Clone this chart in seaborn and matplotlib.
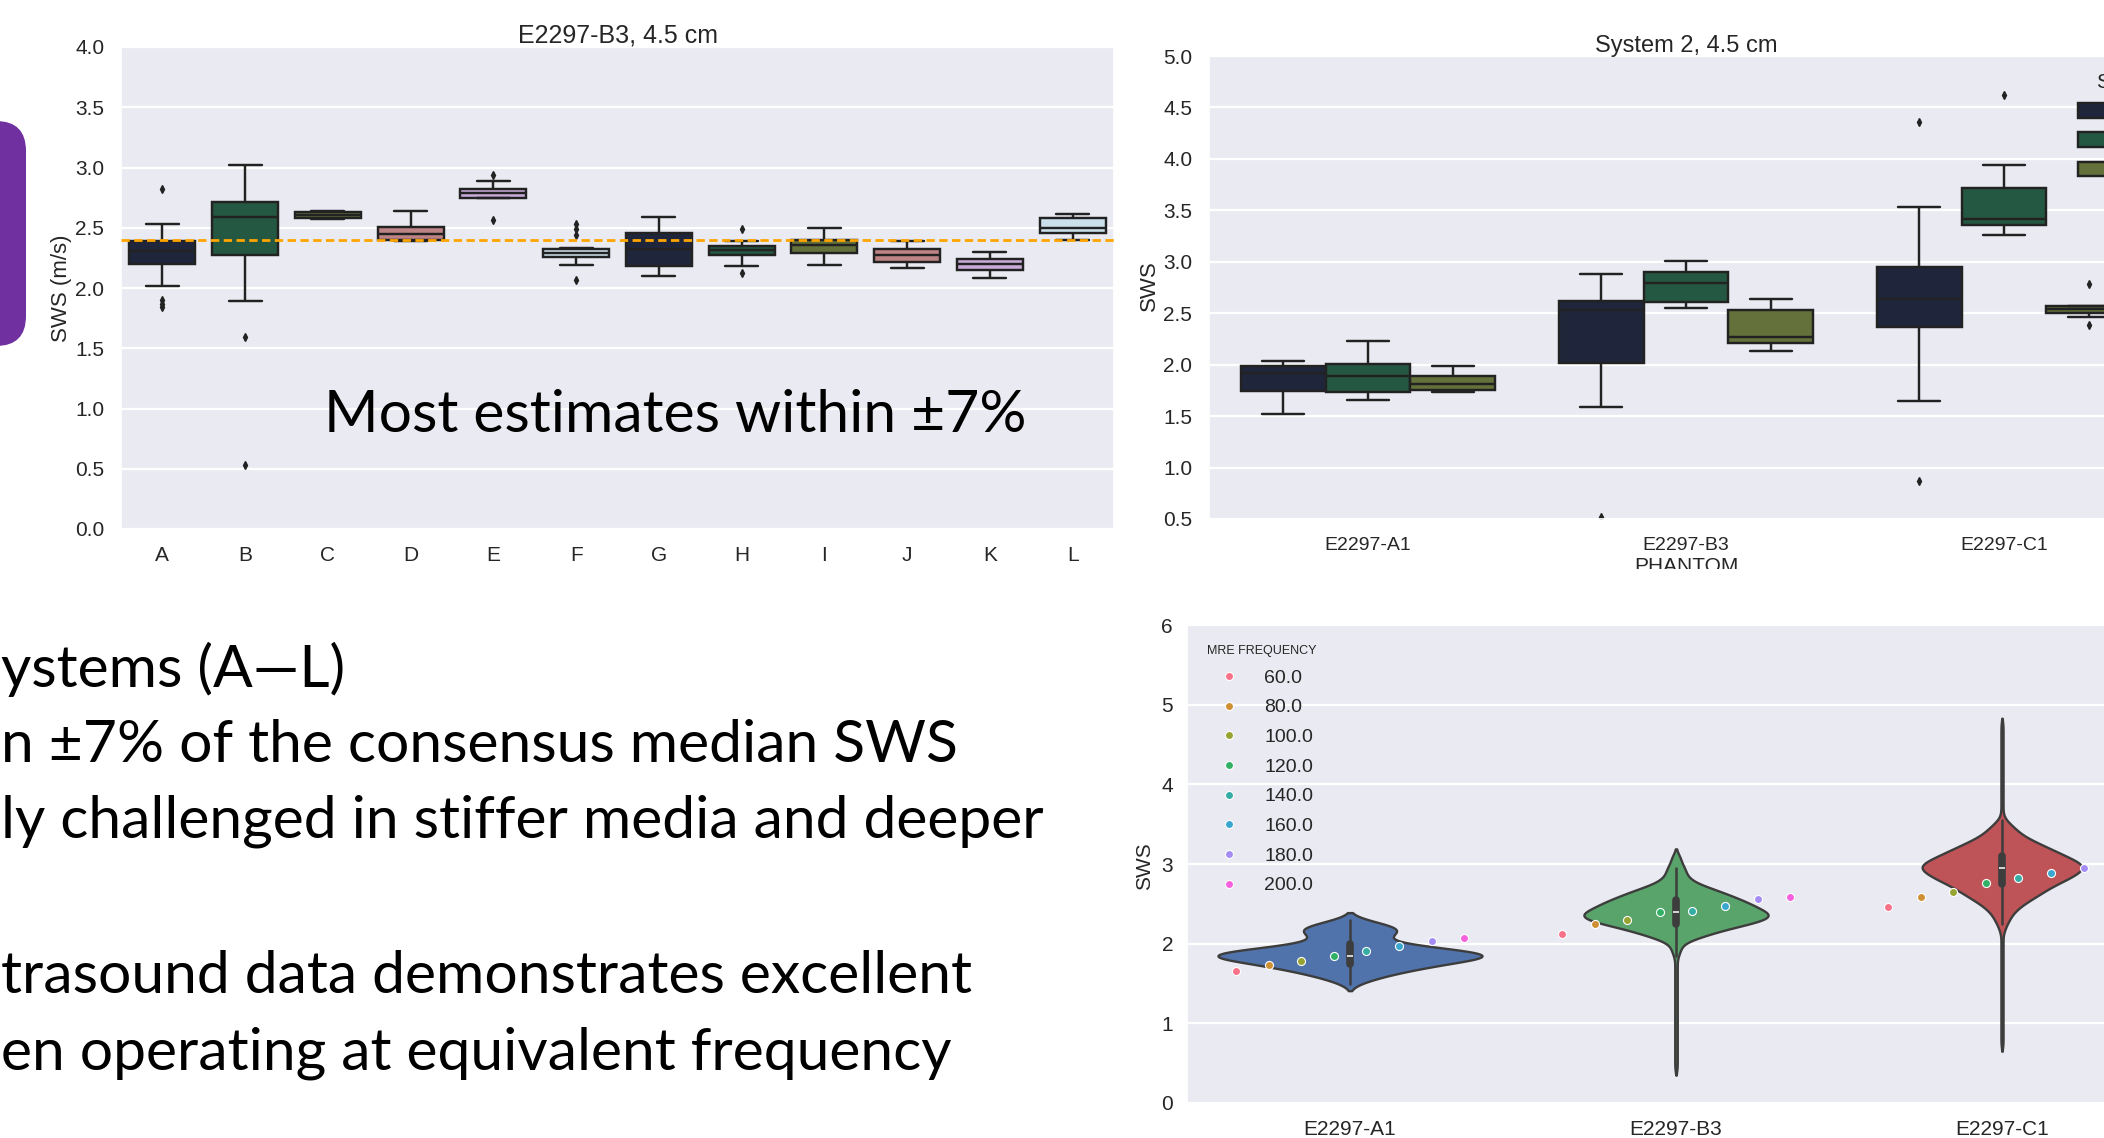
import numpy as np
import pandas as pd
import matplotlib
matplotlib.use("Agg")
import matplotlib.pyplot as plt
from matplotlib.patches import FancyBboxPatch, Rectangle
from matplotlib.ticker import FormatStrFormatter
import seaborn as sns

W, H = 2104, 1138

# ---------------- data: top-left  (E2297-B3, 4.5 cm, systems A-L) ----------------
systems = list("ABCDEFGHIJKL")
sws_A = [1.84, 1.87, 1.90, 2.02, 2.20, 2.23, 2.26, 2.29, 2.31, 2.33, 2.35, 2.37, 2.39, 2.42, 2.47, 2.53, 2.82]
sws_B = [0.53, 1.59, 1.89, 2.27, 2.45, 2.55, 2.59, 2.63, 2.67, 2.71, 2.80, 2.90, 3.02]
sws_C = [2.57, 2.575, 2.58, 2.59, 2.605, 2.62, 2.63, 2.635, 2.64]
sws_D = [2.39, 2.395, 2.40, 2.43, 2.45, 2.48, 2.51, 2.57, 2.635]
sws_E = [2.565, 2.75, 2.75, 2.77, 2.79, 2.80, 2.82, 2.89, 2.94]
sws_F = [2.063, 2.19, 2.22, 2.24, 2.26, 2.27, 2.28, 2.285, 2.29, 2.30, 2.31, 2.315, 2.32, 2.33, 2.437, 2.49, 2.535]
sws_G = [2.10, 2.14, 2.185, 2.25, 2.32, 2.40, 2.46, 2.52, 2.59]
sws_H = [2.124, 2.185, 2.27, 2.29, 2.315, 2.33, 2.35, 2.39, 2.49]
sws_I = [2.19, 2.24, 2.29, 2.33, 2.36, 2.38, 2.40, 2.45, 2.50]
sws_J = [2.165, 2.19, 2.215, 2.24, 2.27, 2.30, 2.32, 2.36, 2.39]
sws_K = [2.085, 2.12, 2.15, 2.18, 2.20, 2.22, 2.24, 2.27, 2.30]
sws_L = [2.40, 2.43, 2.455, 2.48, 2.50, 2.54, 2.585, 2.60, 2.61]
consensus_median = 2.40

# ---------------- data: top-right  (System 2, 4.5 cm) ----------------
phantoms = ["E2297-A1", "E2297-B3", "E2297-C1"]
settings = ["Mode 1", "Mode 2", "Mode 3"]
s2_A1_m1 = [1.52, 1.65, 1.74, 1.85, 1.92, 1.96, 1.99, 2.02, 2.04]
s2_A1_m2 = [1.66, 1.70, 1.73, 1.82, 1.89, 1.95, 2.005, 2.10, 2.23]
s2_A1_m3 = [1.73, 1.74, 1.753, 1.78, 1.81, 1.85, 1.886, 1.94, 1.987]
s2_B3_m1 = [0.52, 1.59, 2.02, 2.30, 2.53, 2.58, 2.62, 2.75, 2.88]
s2_B3_m2 = [2.55, 2.58, 2.61, 2.70, 2.79, 2.85, 2.905, 2.96, 3.01]
s2_B3_m3 = [2.13, 2.17, 2.21, 2.24, 2.265, 2.40, 2.53, 2.58, 2.635]
s2_C1_m1 = [0.87, 1.65, 2.37, 2.50, 2.64, 2.80, 2.95, 3.535, 4.36]
s2_C1_m2 = [3.26, 3.31, 3.36, 3.39, 3.415, 3.55, 3.72, 3.94, 4.62]
s2_C1_m3 = [2.39, 2.46, 2.505, 2.52, 2.54, 2.56, 2.575, 2.575, 2.78]

# ---------------- data: bottom-right (violin of SWS values + MRE points) ----------------
vio_A1_values = [1.50, 1.55, 1.60, 1.65, 1.70, 1.75, 1.80, 1.85, 1.90, 1.95, 2.00, 2.05,
                 2.10, 2.15, 2.20, 2.25, 2.30]
vio_A1_counts = [2, 4, 7, 10, 14, 18, 23, 30, 24, 16, 9, 6, 7, 10, 10, 6, 3]
vio_B3_values = [0.44, 0.54, 0.64, 0.74, 0.84, 0.94, 1.04, 1.14, 1.24, 1.34, 1.44, 1.54,
                 1.64, 1.74, 1.84,
                 1.90, 1.95, 2.00, 2.05, 2.10, 2.15, 2.20, 2.25, 2.30, 2.35, 2.40, 2.45,
                 2.50, 2.55, 2.60, 2.65, 2.70, 2.75, 2.80, 2.85, 2.90, 2.95, 3.00, 3.05, 3.10]
vio_B3_counts = [1, 1, 1, 1, 1, 1, 1, 1, 1, 1, 1, 1,
                 1, 1, 1,
                 2, 2, 2, 6, 12, 16, 22, 30, 36, 40, 36, 32,
                 30, 26, 22, 18, 14, 8, 6, 4, 4, 4, 2, 2, 2]
vio_C1_values = [0.74, 0.84, 0.94, 1.04, 1.14, 1.24, 1.34, 1.44, 1.54, 1.64, 1.74, 1.84,
                 1.94, 2.04, 2.14,
                 2.20, 2.25, 2.30, 2.35, 2.40, 2.45, 2.50, 2.55, 2.60, 2.65, 2.70, 2.75,
                 2.80, 2.85, 2.90, 2.95, 3.00, 3.05, 3.10, 3.15, 3.20, 3.25, 3.30, 3.35,
                 3.40, 3.45, 3.50, 3.55,
                 3.64, 3.74, 3.84, 3.94, 4.04, 4.14, 4.24, 4.34, 4.44, 4.54, 4.64, 4.74]
vio_C1_counts = [1, 1, 1, 1, 1, 1, 1, 1, 1, 1, 1, 1,
                 1, 1, 1,
                 2, 2, 4, 4, 6, 8, 10, 14, 16, 20, 22, 26,
                 30, 34, 36, 40, 38, 34, 30, 26, 22, 18, 14, 10,
                 8, 6, 4, 2,
                 1, 1, 1, 1, 1, 1, 1, 1, 1, 1, 1, 1]
mre_freqs = ["60.0", "80.0", "100.0", "120.0", "140.0", "160.0", "180.0", "200.0"]
mre_A1 = [1.658, 1.729, 1.788, 1.842, 1.913, 1.975, 2.029, 2.075]
mre_B3 = [2.125, 2.250, 2.300, 2.396, 2.408, 2.471, 2.563, 2.592]
mre_C1 = [2.460, 2.582, 2.644, 2.761, 2.823, 2.882, 2.956, 3.000]

# ---------------- style ----------------
sns.set_theme(style="darkgrid", rc={"grid.linewidth": 1.6, "axes.facecolor": "#EAEAF2"})
plt.rcParams["font.family"] = ["Liberation Sans", "DejaVu Sans"]
plt.rcParams["text.color"] = ".15"
plt.rcParams["axes.labelcolor"] = ".15"
plt.rcParams["xtick.color"] = ".15"
plt.rcParams["ytick.color"] = ".15"

def rect(left, top, right, bottom):
    return [left / W, 1 - bottom / H, (right - left) / W, (bottom - top) / H]

fig = plt.figure(figsize=(W / 100, H / 100), dpi=100)
fig.patch.set_facecolor("white")

ax1 = fig.add_axes(rect(121, 47, 1114, 529))
ax2 = fig.add_axes(rect(1209, 56, 1209 + 954, 519))
ax3 = fig.add_axes(rect(1187, 625, 1187 + 978, 1103))

edge = "#222222"
flier = dict(marker="d", markerfacecolor=edge, markeredgecolor=edge, markersize=4)
cube6 = sns.color_palette("cubehelix", 6)

# ---- top-left boxplot ----
tl_lists = [sws_A, sws_B, sws_C, sws_D, sws_E, sws_F, sws_G, sws_H, sws_I, sws_J, sws_K, sws_L]
df1 = pd.DataFrame({
    "SYSTEM": np.repeat(systems, [len(v) for v in tl_lists]),
    "SWS": np.concatenate(tl_lists),
})
sns.boxplot(data=df1, x="SYSTEM", y="SWS", hue="SYSTEM", order=systems,
            palette=cube6 * 2, legend=False, width=0.8, linewidth=1.75,
            linecolor=edge, flierprops=flier, ax=ax1)
ax1.axhline(consensus_median, color="#FFA500", lw=2.0, ls=(0, (3.0, 1.6)), zorder=5)
ax1.set_ylim(0, 4.0)
ax1.set_yticks([0, 0.5, 1.0, 1.5, 2.0, 2.5, 3.0, 3.5, 4.0])
ax1.yaxis.set_major_formatter(FormatStrFormatter("%.1f"))
ax1.set_xlabel("")
ax1.set_ylabel("SWS (m/s)", fontsize=16)
ax1.yaxis.set_label_coords(-0.049, 0.5)
ax1.set_title("E2297-B3, 4.5 cm", fontsize=18, pad=3)
ax1.tick_params(axis="x", labelsize=15, pad=6)
ax1.tick_params(axis="y", labelsize=15, pad=6)

# ---- top-right grouped boxplot ----
tr_groups = [
    ("E2297-A1", "Mode 1", s2_A1_m1), ("E2297-A1", "Mode 2", s2_A1_m2), ("E2297-A1", "Mode 3", s2_A1_m3),
    ("E2297-B3", "Mode 1", s2_B3_m1), ("E2297-B3", "Mode 2", s2_B3_m2), ("E2297-B3", "Mode 3", s2_B3_m3),
    ("E2297-C1", "Mode 1", s2_C1_m1), ("E2297-C1", "Mode 2", s2_C1_m2), ("E2297-C1", "Mode 3", s2_C1_m3),
]
df2 = pd.DataFrame({
    "PHANTOM": np.concatenate([[p] * len(v) for p, s, v in tr_groups]),
    "SETTING": np.concatenate([[s] * len(v) for p, s, v in tr_groups]),
    "SWS": np.concatenate([v for p, s, v in tr_groups]),
})
sns.boxplot(data=df2, x="PHANTOM", y="SWS", hue="SETTING", order=phantoms,
            hue_order=settings, palette=cube6[:3], width=0.8, linewidth=1.75,
            linecolor=edge, flierprops=flier, ax=ax2)
ax2.set_ylim(0.5, 5.0)
ax2.set_yticks([0.5, 1.0, 1.5, 2.0, 2.5, 3.0, 3.5, 4.0, 4.5, 5.0])
ax2.yaxis.set_major_formatter(FormatStrFormatter("%.1f"))
ax2.set_xlabel("PHANTOM", fontsize=15, labelpad=2)
ax2.set_ylabel("SWS", fontsize=16)
ax2.yaxis.set_label_coords(-0.051, 0.503)
ax2.set_title("System 2, 4.5 cm", fontsize=17, pad=3)
ax2.tick_params(axis="x", labelsize=14, pad=7)
ax2.tick_params(axis="y", labelsize=15, pad=6)
sns.move_legend(ax2, "upper left", bbox_to_anchor=(0.9105, 0.963), frameon=False,
                title="SETTING", fontsize=15, title_fontsize=15, borderpad=0,
                borderaxespad=0, labelspacing=0.5)

# ---- bottom-right violin + strip ----
vio_sets = [(vio_A1_values, vio_A1_counts), (vio_B3_values, vio_B3_counts),
            (vio_C1_values, vio_C1_counts)]
df3 = pd.DataFrame({
    "PHANTOM": np.concatenate([np.repeat([p], sum(c)) for p, (v, c) in zip(phantoms, vio_sets)]),
    "SWS": np.concatenate([np.repeat(v, c) for v, c in vio_sets]),
})
df4 = pd.DataFrame({
    "PHANTOM": np.repeat(phantoms, len(mre_freqs)),
    "MRE FREQUENCY": mre_freqs * 3,
    "SWS": mre_A1 + mre_B3 + mre_C1,
})
deep_old = ["#4C72B0", "#55A868", "#C44E52"]
violin_widths = [0.81, 0.565, 0.49]   # drawn width of each violin (style)
for ph, col, vw in zip(phantoms, deep_old, violin_widths):
    sns.violinplot(data=df3[df3["PHANTOM"] == ph], x="PHANTOM", y="SWS", order=phantoms,
                   color=col, saturation=0.9, width=vw, density_norm="width",
                   linewidth=1.7, linecolor="#3d3d3d", cut=1.5, gridsize=400,
                   bw_method=lambda k: 0.06 / np.std(k.dataset, ddof=1),
                   inner="box", inner_kws=dict(box_width=5.5, whis_width=1.8),
                   ax=ax3)
sns.stripplot(data=df4, x="PHANTOM", y="SWS", hue="MRE FREQUENCY", order=phantoms,
              hue_order=mre_freqs, palette="husl", dodge=True, jitter=False,
              size=5.8, linewidth=0.8, edgecolor="white", ax=ax3)
ax3.set_ylim(0, 6)
ax3.set_yticks([0, 1, 2, 3, 4, 5, 6])
ax3.set_xlabel("")
ax3.set_ylabel("SWS", fontsize=15)
ax3.yaxis.set_label_coords(-0.034, 0.496)
ax3.tick_params(axis="x", labelsize=15, pad=6)
ax3.tick_params(axis="y", labelsize=15, pad=4)
sns.move_legend(ax3, "upper left", bbox_to_anchor=(0.02, 0.958), frameon=False,
                title="MRE FREQUENCY", fontsize=14, title_fontsize=9, borderpad=0,
                borderaxespad=0, labelspacing=0.62, handletextpad=0.8)

# ---- slide decorations ----
clip = Rectangle((11.3, (H - 612) / 100), 10.0, (612 - 569) / 100,
                 transform=fig.dpi_scale_trans, facecolor="white", edgecolor="none", zorder=10)
fig.patches.append(clip)
purple = FancyBboxPatch((-0.8, (H - 346) / 100), 1.06, (346 - 121) / 100,
                        boxstyle="round,pad=0,rounding_size=0.3",
                        transform=fig.dpi_scale_trans, facecolor="#7030A0",
                        edgecolor="none", zorder=10)
fig.patches.append(purple)

slide_font = ["Lato", "DejaVu Sans"]
fig.text(324 / W, 1 - 432 / H, "Most estimates within \u00b17%", fontsize=42.3,
         family=slide_font, color="black", va="baseline", ha="left", zorder=11)
lines = [
    (687, "ystems (A\u2014L)"),
    (762, "n \u00b17% of the consensus median SWS"),
    (838, "ly challenged in stiffer media and deeper"),
    (993, "trasound data demonstrates excellent"),
    (1069, "en operating at equivalent frequency"),
]
for yb, txt in lines:
    fig.text(1 / W, 1 - yb / H, txt, fontsize=42.3, family=slide_font, color="black",
             va="baseline", ha="left", zorder=11)

fig.savefig("out.png", dpi=100, facecolor="white")
